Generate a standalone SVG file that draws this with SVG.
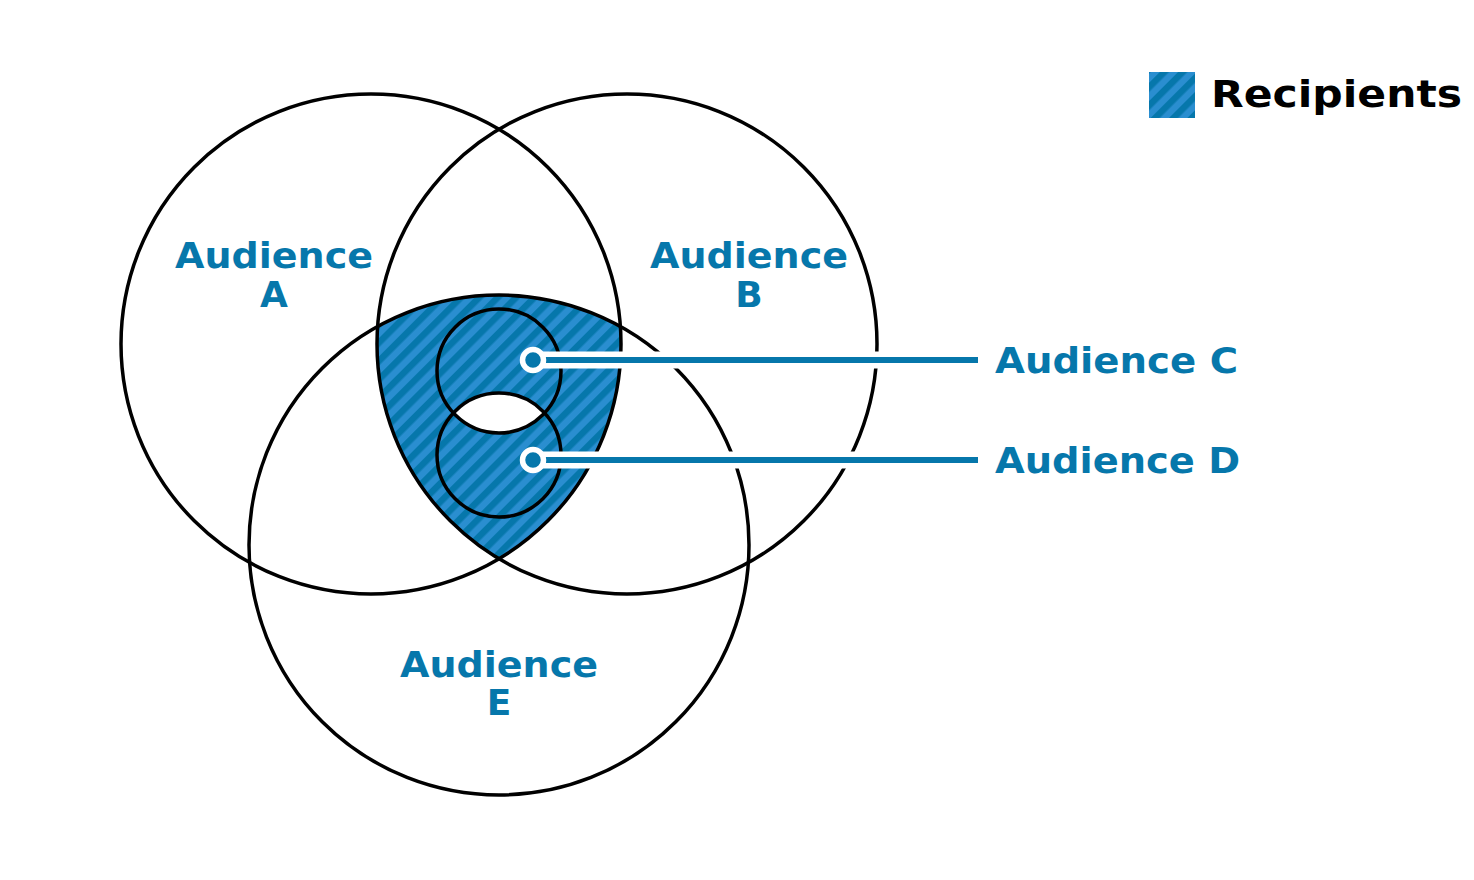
<svg xmlns="http://www.w3.org/2000/svg" width="1474" height="880" viewBox="0 0 1474 880">
<style>
.ring{fill:none;stroke:#000;stroke-width:3.5}
.lbl{font-family:"DejaVu Sans",sans-serif;font-weight:bold;font-size:36px;fill:#0677ab}
.legend{font-family:"DejaVu Sans",sans-serif;font-weight:bold;font-size:38px;fill:#000}
.casing{stroke:#fff;stroke-width:17;fill:none}
.wire{stroke:#0677ab;stroke-width:6;fill:none}
.dot{fill:#0677ab;stroke:#fff;stroke-width:5.5}
</style>
<defs>
<pattern id="hatch" patternUnits="userSpaceOnUse" width="13" height="13" patternTransform="rotate(45)">
<rect width="13" height="13" fill="#2a8ed0"/>
<rect width="6.5" height="13" fill="#0677ab"/>
</pattern>
<clipPath id="clipA"><circle cx="371" cy="344" r="250"/></clipPath>
<clipPath id="clipB"><circle cx="627" cy="344" r="250"/></clipPath>
<clipPath id="clipC"><circle cx="499" cy="371" r="62"/></clipPath>
</defs>
<rect width="1474" height="880" fill="#fff"/>
<g id="recipients-area">
<g clip-path="url(#clipA)"><g clip-path="url(#clipB)">
<circle cx="499" cy="545" r="250" fill="url(#hatch)"/>
</g></g>
<g clip-path="url(#clipC)"><circle cx="499" cy="455" r="62" fill="#fff"/></g>
</g>
<g id="audience-a"><circle class="ring" cx="371" cy="344" r="250"/>
<text class="lbl" x="274" y="268" text-anchor="middle" textLength="198" lengthAdjust="spacingAndGlyphs">Audience</text>
<text class="lbl" x="274" y="307" text-anchor="middle">A</text></g>
<g id="audience-b"><circle class="ring" cx="627" cy="344" r="250"/>
<text class="lbl" x="749" y="268" text-anchor="middle" textLength="198" lengthAdjust="spacingAndGlyphs">Audience</text>
<text class="lbl" x="749" y="307" text-anchor="middle">B</text></g>
<g id="audience-e"><circle class="ring" cx="499" cy="545" r="250"/>
<text class="lbl" x="499" y="677" text-anchor="middle" textLength="198" lengthAdjust="spacingAndGlyphs">Audience</text>
<text class="lbl" x="499" y="715" text-anchor="middle">E</text></g>
<g id="audience-c"><circle class="ring" cx="499" cy="371" r="62"/>
<text class="lbl" x="995" y="373" textLength="243" lengthAdjust="spacingAndGlyphs">Audience C</text></g>
<g id="audience-d"><circle class="ring" cx="499" cy="455" r="62"/>
<text class="lbl" x="995" y="473" textLength="245" lengthAdjust="spacingAndGlyphs">Audience D</text></g>
<g id="connectors">
<line class="casing" x1="533" y1="360" x2="978" y2="360"/>
<line class="casing" x1="533" y1="460" x2="978" y2="460"/>
<line class="wire" x1="533" y1="360" x2="978" y2="360"/>
<line class="wire" x1="533" y1="460" x2="978" y2="460"/>
<circle class="dot" cx="533" cy="360" r="10.5"/>
<circle class="dot" cx="533" cy="460" r="10.5"/>
</g>
<g id="legend">
<rect x="1149" y="72" width="46" height="46" fill="url(#hatch)"/>
<text class="legend" x="1211" y="107" textLength="251" lengthAdjust="spacingAndGlyphs">Recipients</text>
</g>
</svg>
